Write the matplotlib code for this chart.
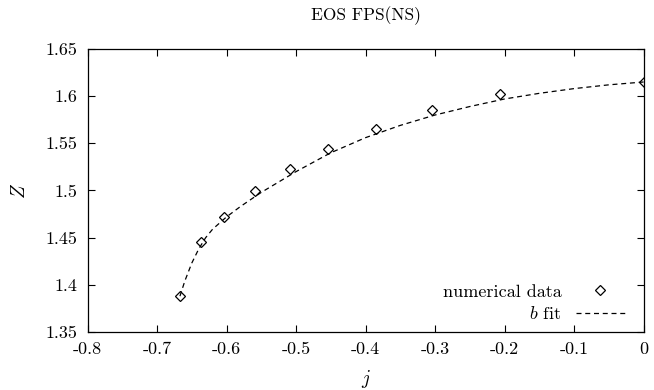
import matplotlib
matplotlib.use('Agg')
import matplotlib.pyplot as plt
from matplotlib.ticker import FuncFormatter

# numerical data
j_data = [-0.667, -0.637, -0.604, -0.559, -0.509, -0.454, -0.385, -0.304, -0.206, 0.0]
Z_data = [1.388, 1.445, 1.472, 1.499, 1.523, 1.544, 1.565, 1.585, 1.602, 1.615]

# fitted curve
j_fit = [-0.667, -0.66, -0.65, -0.64, -0.63, -0.62, -0.60, -0.58, -0.55, -0.50,
         -0.45, -0.40, -0.35, -0.30, -0.25, -0.20, -0.15, -0.10, -0.05, 0.0]
Z_fit = [1.388, 1.404, 1.423, 1.438, 1.450, 1.459, 1.472, 1.483, 1.498, 1.520,
         1.540, 1.556, 1.569, 1.580, 1.589, 1.597, 1.603, 1.608, 1.612, 1.615]

x_ticks = [-0.8, -0.7, -0.6, -0.5, -0.4, -0.3, -0.2, -0.1, 0]
y_ticks = [1.35, 1.4, 1.45, 1.5, 1.55, 1.6, 1.65]

plt.rcParams['font.family'] = 'serif'
plt.rcParams['font.serif'] = ['cmr10', 'DejaVu Serif']
plt.rcParams['mathtext.fontset'] = 'cm'
plt.rcParams['axes.unicode_minus'] = False
plt.rcParams['axes.formatter.use_mathtext'] = True

fig = plt.figure(figsize=(6.54, 3.9), dpi=100)
ax = fig.add_axes([0.1338, 0.1487, 0.8502, 0.7257])

ax.plot(j_data, Z_data, linestyle='none', marker='D', markersize=5,
        markerfacecolor='white', markeredgecolor='black', markeredgewidth=0.9,
        label='numerical data')
ax.plot(j_fit, Z_fit, color='black', linestyle=(0, (4, 3)), linewidth=0.9,
        label='$b$ fit')

ax.set_xlim(-0.8, 0)
ax.set_ylim(1.35, 1.65)
ax.set_xticks(x_ticks)
ax.set_yticks(y_ticks)
ax.xaxis.set_major_formatter(FuncFormatter(lambda v, p: '%g' % round(v, 2)))
ax.yaxis.set_major_formatter(FuncFormatter(lambda v, p: '%g' % round(v, 2)))
ax.tick_params(direction='in', length=5, width=0.8, top=True, right=True,
               labelsize=13, pad=7)
for s in ax.spines.values():
    s.set_linewidth(0.9)

ax.set_xlabel('$j$', fontsize=14, labelpad=8)
ax.set_ylabel('$Z$', fontsize=14, labelpad=12)
ax.set_title('EOS FPS(NS)', fontsize=12.5, pad=21)

ax.legend(loc='lower right', bbox_to_anchor=(0.984, 0.0), frameon=False,
          markerfirst=False, fontsize=13, handlelength=2.7, handletextpad=0.8,
          borderaxespad=0.15, labelspacing=0.3)

fig.savefig('out.png', dpi=100)
